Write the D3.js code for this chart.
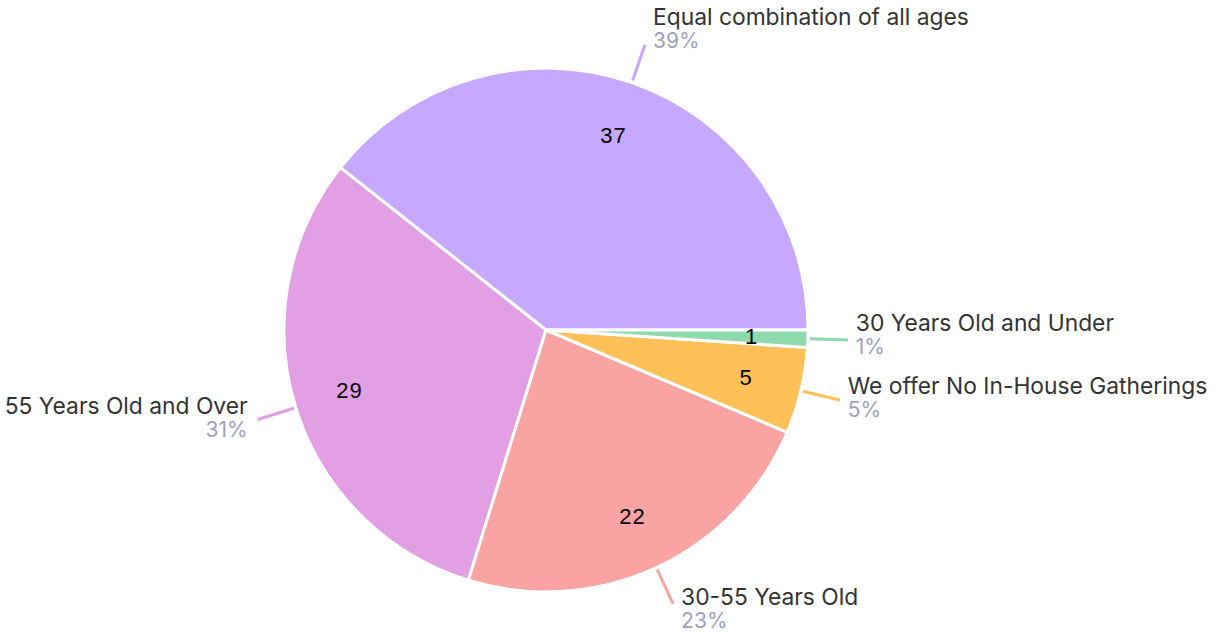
<!DOCTYPE html>
<html>
<head>
<meta charset="utf-8">
<script src="https://cdn.jsdelivr.net/npm/d3@7/dist/d3.min.js"></script>
<style>
  html, body { margin: 0; padding: 0; background: #fff; }
  svg { display: block; }
</style>
</head>
<body>
<svg id="chart" width="1219" height="632"></svg>
<script>
const categories = [
  "Equal combination of all ages",
  "55 Years Old and Over",
  "30-55 Years Old",
  "We offer No In-House Gatherings",
  "30 Years Old and Under"
];
const values = [37, 29, 22, 5, 1];
const percentLabels = ["39%", "31%", "23%", "5%", "1%"];
const colors = ["#C6A8FE", "#E29FE3", "#FAA3A3", "#FFC157", "#8FDAAC"];

const W = 1219, H = 632;
const cx = 546, cy = 330, R = 262;

const svg = d3.select("#chart");
const g = svg.append("g").attr("transform", `translate(${cx},${cy})`);

const data = categories.map((c, i) => ({ name: c, value: values[i], pct: percentLabels[i], color: colors[i] }));

const pie = d3.pie()
  .value(d => d.value)
  .sort(null)
  .startAngle(Math.PI / 2)
  .endAngle(Math.PI / 2 - 2 * Math.PI);

const arcs = pie(data);
const arc = d3.arc().innerRadius(0).outerRadius(R);
const labelArc = d3.arc().innerRadius(R * 0.785).outerRadius(R * 0.785);

g.selectAll("path.slice")
  .data(arcs)
  .enter().append("path")
  .attr("class", "slice")
  .attr("d", arc)
  .attr("fill", d => d.data.color)
  .attr("stroke", "#fff")
  .attr("stroke-width", 3)
  .attr("stroke-linejoin", "round");

g.selectAll("text.val")
  .data(arcs)
  .enter().append("text")
  .attr("class", "val")
  .attr("transform", d => `translate(${labelArc.centroid(d)})`)
  .attr("text-anchor", "middle")
  .attr("dominant-baseline", "central")
  .attr("font-family", "Liberation Sans, Arial, sans-serif")
  .attr("font-size", 22)
  .attr("letter-spacing", 1)
  .attr("fill", "#000")
  .text(d => d.data.value);

// leader lines and outer labels
const r1 = R + 2, r2 = R + 40;
arcs.forEach(d => {
  const mid = (d.startAngle + d.endAngle) / 2; // d3 angle: 0 at top, clockwise
  const sx = Math.sin(mid), sy = -Math.cos(mid);
  const p1 = [sx * r1, sy * r1];
  const p2 = [sx * r2, sy * r2];
  g.append("line")
    .attr("x1", p1[0]).attr("y1", p1[1])
    .attr("x2", p2[0]).attr("y2", p2[1])
    .attr("stroke", d.data.color)
    .attr("stroke-width", 3);
  const right = sx >= 0;
  const tx = p2[0] + (right ? 8 : -10);
  const upness = -sy; // 1 at top, -1 at bottom
  const nameY = p2[1] - 9 - 11 * upness;
  const t = g.append("text")
    .attr("text-anchor", right ? "start" : "end")
    .attr("font-family", "Inter, Lato, sans-serif");
  t.append("tspan")
    .attr("x", tx).attr("y", nameY)
    .attr("font-size", 22.8)
    .attr("fill", "#333333")
    .text(d.data.name);
  t.append("tspan")
    .attr("x", tx).attr("y", nameY + 23)
    .attr("font-size", 21)
    .attr("fill", "#A09FBD")
    .text(d.data.pct);
});
</script>
</body>
</html>
